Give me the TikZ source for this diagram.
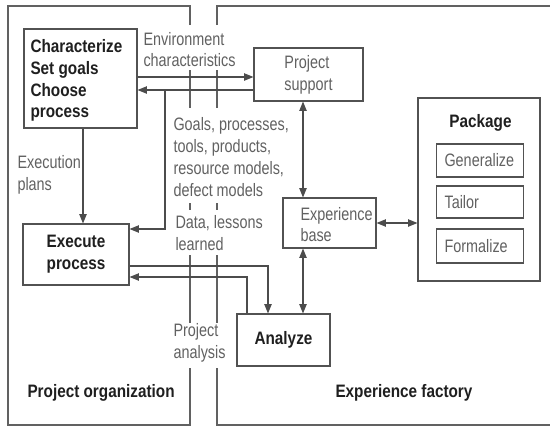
\documentclass[tikz,border=0pt]{standalone}
\usepackage{fontspec}
\setmainfont{Liberation Sans}[FakeStretch=0.8, BoldFeatures={FakeStretch=0.85}]
\usetikzlibrary{arrows.meta,calc}

\begin{document}
\begin{tikzpicture}[x=0.75pt,y=0.75pt,yscale=-1,xscale=1,
  line width=0.8pt, draw=black!68,
  every node/.style={font=\fontsize{13.5}{16.3}\selectfont},
  box/.style={draw=black!68, line width=0.8pt, inner sep=0pt},
  plain/.style={text=black!62, align=left, inner sep=0pt},
  heavy/.style={text=black!88, font=\fontsize{13.5}{16.3}\selectfont\bfseries, inner sep=0pt},
  arr/.style={draw=black!70, -{Triangle[length=7pt,width=5.5pt]}},
  darr/.style={draw=black!70, {Triangle[length=7pt,width=5.5pt]}-{Triangle[length=7pt,width=5.5pt]}}]
\useasboundingbox (0,0) rectangle (550,426);

%Frames
\draw[black!62] (190,25) -- (190,6) -- (8,6) -- (8,425) -- (190,425) -- (190,368) ;
\draw[black!62] (190,70) -- (190,108) (190,203) -- (190,210) (190,255) -- (190,323) ;
\draw[black!62] (217,25) -- (217,6) -- (550,6) (550,425) -- (217,425) -- (217,368) ;
\draw[black!62] (217,70) -- (217,108) (217,203) -- (217,210) (217,255) -- (217,323) ;

% Boxes
\node[box, minimum width=84.75pt, minimum height=74.25pt] (char) at (80.5,78.5) {};
\node[heavy, align=left, anchor=west] (chartxt) at (30,80.5) {Characterize\\Set goals\\Choose\\process};
\node[box, heavy, align=center, minimum width=79.5pt, minimum height=45.75pt] (exec) at (76,254.5) {Execute\\process};
\node[box, plain, minimum width=81.75pt, minimum height=39.75pt] (psup) at (308.5,74.5) {Project\\support};
\node[box, minimum width=69.75pt, minimum height=37.5pt] (expb) at (329.5,223) {};
\node[plain, anchor=west] (expbtxt) at (300,224.5) {Experience\\base};
\node[box, heavy, minimum width=69.75pt, minimum height=39pt] (anl) at (283.5,340) {Analyze};

% Package
\node[box, minimum width=91.5pt, minimum height=137.25pt] (pkg) at (479,189.5) {};
\node[heavy] (pkgtxt) at (480.5,122.5) {Package};
\node[box, plain, anchor=west, text width=53.25pt, inner xsep=6pt, minimum height=24.75pt] (gen) at (436,160.5) {Generalize};
\node[box, plain, anchor=west, text width=53.25pt, inner xsep=6pt, minimum height=24pt] (tail) at (436,202) {Tailor};
\node[box, plain, anchor=west, text width=53.25pt, inner xsep=6pt, minimum height=25.5pt] (form) at (436,246) {Formalize};

% Labels
\node[plain, anchor=west] (env) at (143,49.5) {Environment\\characteristics};
\node[plain, anchor=west] (goals) at (173,157) {Goals, processes,\\tools, products,\\resource models,\\defect models};
\node[plain, anchor=west] (data) at (175,233) {Data, lessons\\learned};
\node[plain, anchor=west] (pana) at (173,343) {Project\\analysis};
\node[plain, anchor=west] (plans) at (17,174.5) {Execution\\plans};
\node[heavy, anchor=west] (porg) at (27,393) {Project organization};
\node[heavy, anchor=west] (efac) at (335,393) {Experience factory};

% Connectors
\draw[arr] ($(char.east)+(0,-1.5)$) coordinate (c1) -- (c1 -| psup.west) ;
\draw[arr] ($(psup.west)+(0,15.5)$) coordinate (c2) -- (c2 -| char.east) ;
\coordinate (br) at (c2 -| 165,0) ;
\draw[arr] (br) |- ($(exec.east)+(0,-25.5)$) ;
\draw[arr] ($(char.south)+(2.5,0)$) coordinate (c4) -- (c4 |- exec.north) ;
\draw[arr] ($(exec.east)+(0,11.5)$) -| ($(anl.north)+(-15.5,0)$) ;
\draw[arr] ($(anl.north)+(-36.5,0)$) |- ($(exec.east)+(0,22.5)$) ;
\draw[darr] ($(psup.south)+(-5.5,0)$) coordinate (c7) -- (c7 |- expb.north) ;
\draw[darr] (c7 |- expb.south) -- (c7 |- anl.north) ;
\draw[darr] (expb.east) -- (expb.east -| pkg.west) ;

\end{tikzpicture}
\end{document}
